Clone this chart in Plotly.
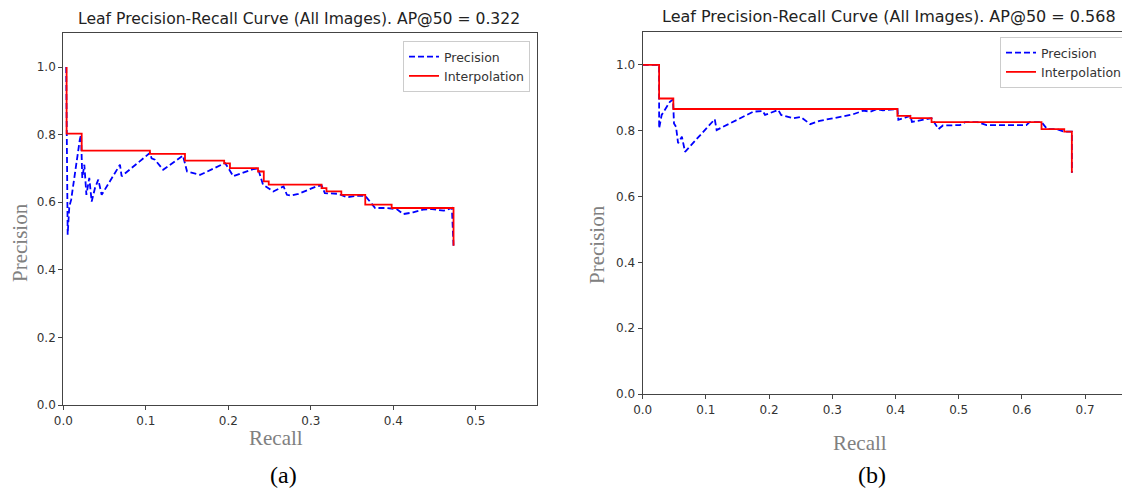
import plotly.graph_objects as go

# ---------------- data ----------------
title_a = "Leaf Precision-Recall Curve (All Images). AP@50 = 0.322"
title_b = "Leaf Precision-Recall Curve (All Images). AP@50 = 0.568"

# (a) precision curve
recall_a = [0.0035, 0.0053, 0.0073, 0.0095, 0.020, 0.0215, 0.023, 0.0255, 0.028, 0.0315,
            0.0344, 0.0384, 0.0424, 0.0465, 0.0687, 0.0707, 0.105, 0.107, 0.111, 0.121,
            0.145, 0.150, 0.166, 0.196, 0.199, 0.206, 0.230, 0.236, 0.242, 0.2545,
            0.267, 0.271, 0.276, 0.285, 0.307, 0.313, 0.317, 0.333, 0.344, 0.356,
            0.366, 0.378, 0.390, 0.404, 0.412, 0.424, 0.436, 0.447, 0.461, 0.471, 0.473]
precision_a = [1.0, 0.504, 0.588, 0.607, 0.785, 0.800, 0.672, 0.711, 0.622, 0.672,
               0.602, 0.642, 0.667, 0.622, 0.711, 0.677, 0.746, 0.730, 0.726, 0.696,
               0.738, 0.691, 0.681, 0.716, 0.705, 0.677, 0.698, 0.700, 0.652, 0.632,
               0.647, 0.622, 0.620, 0.625, 0.647, 0.650, 0.627, 0.625, 0.615, 0.619,
               0.619, 0.583, 0.583, 0.580, 0.565, 0.570, 0.578, 0.580, 0.575, 0.583, 0.471]
# (a) interpolated precision (step points)
interp_recall_a = [0.004, 0.004, 0.0223, 0.105, 0.1475, 0.195, 0.202, 0.236, 0.243, 0.249,
                   0.313, 0.319, 0.337, 0.366, 0.398, 0.473]
interp_precision_a = [1.0, 0.803, 0.753, 0.743, 0.723, 0.715, 0.701, 0.691, 0.662, 0.652,
                      0.642, 0.632, 0.622, 0.593, 0.583, 0.471]

# (b) precision curve
recall_b = [0.0, 0.026, 0.026, 0.030, 0.043, 0.048, 0.0495, 0.0527, 0.056, 0.062,
            0.067, 0.114, 0.117, 0.138, 0.175, 0.190, 0.1935, 0.2145, 0.219, 0.238,
            0.250, 0.265, 0.280, 0.307, 0.333, 0.349, 0.360, 0.370, 0.380, 0.403,
            0.4045, 0.415, 0.4235, 0.426, 0.445, 0.457, 0.468, 0.475, 0.502, 0.510,
            0.530, 0.544, 0.607, 0.612, 0.631, 0.640, 0.655, 0.667, 0.679, 0.679]
precision_b = [1.0, 1.0, 0.807, 0.848, 0.888, 0.895, 0.822, 0.812, 0.762, 0.782,
               0.736, 0.835, 0.802, 0.822, 0.858, 0.860, 0.848, 0.863, 0.848, 0.838,
               0.842, 0.820, 0.830, 0.840, 0.850, 0.861, 0.858, 0.865, 0.862, 0.866,
               0.833, 0.840, 0.845, 0.827, 0.835, 0.838, 0.805, 0.816, 0.817, 0.826,
               0.826, 0.817, 0.817, 0.826, 0.826, 0.805, 0.805, 0.797, 0.797, 0.672]
# (b) interpolated precision (step points)
interp_recall_b = [0.0, 0.026, 0.0485, 0.403, 0.4235, 0.457, 0.631, 0.667, 0.679]
interp_precision_b = [1.0, 0.898, 0.866, 0.845, 0.838, 0.826, 0.805, 0.797, 0.672]

x_ticks_a = [0.0, 0.1, 0.2, 0.3, 0.4, 0.5]
x_ticks_b = [0.0, 0.1, 0.2, 0.3, 0.4, 0.5, 0.6, 0.7]
y_ticks = [0.0, 0.2, 0.4, 0.6, 0.8, 1.0]

# ---------------- figure ----------------
# The page body has an 8px margin, so the figure is offset by 8px;
# size it so it fits the 1130x497 window exactly.
OFF = 8
W, H = 1130 - OFF, 497 - 2 * OFF


def px(xp):
    return (xp - OFF) / W


def py(yp):
    return 1 - (yp - OFF) / H


BLUE = "#0000ff"
RED = "#ff0000"
dash = "6px,3px"

fig = go.Figure()
fig.add_trace(go.Scatter(x=recall_a, y=precision_a, mode="lines", name="Precision",
                         line=dict(color=BLUE, width=1.8, dash=dash),
                         xaxis="x", yaxis="y", legend="legend"))
fig.add_trace(go.Scatter(x=interp_recall_a, y=interp_precision_a, mode="lines", name="Interpolation",
                         line=dict(color=RED, width=1.8, shape="hv"),
                         xaxis="x", yaxis="y", legend="legend"))
fig.add_trace(go.Scatter(x=recall_b, y=precision_b, mode="lines", name="Precision",
                         line=dict(color=BLUE, width=1.8, dash=dash),
                         xaxis="x2", yaxis="y2", legend="legend2"))
fig.add_trace(go.Scatter(x=interp_recall_b, y=interp_precision_b, mode="lines", name="Interpolation",
                         line=dict(color=RED, width=1.8, shape="hv"),
                         xaxis="x2", yaxis="y2", legend="legend2"))

tickfont = dict(family="DejaVu Sans", size=12, color="#333333")
axis_common = dict(showgrid=False, zeroline=False, showline=True, linecolor="#444444",
                   linewidth=1.2, ticks="outside", ticklen=4, tickcolor="#444444",
                   tickfont=tickfont, tickformat=".1f", automargin=False)

legend_font = dict(family="DejaVu Sans", size=12.5, color="#333333")

fig.update_layout(
    template="none",
    width=W, height=H,
    margin=dict(l=0, r=0, t=0, b=0, pad=0, autoexpand=False),
    paper_bgcolor="white", plot_bgcolor="white",
    xaxis=dict(domain=[px(63.3), px(536.7)], range=[0, 0.5738], tickvals=x_ticks_a,
               mirror=True, anchor="y", **axis_common),
    yaxis=dict(domain=[py(405), py(33.3)], range=[0, 1.1], tickvals=y_ticks,
               mirror=True, anchor="x", **axis_common),
    xaxis2=dict(domain=[px(642.7), 1.0], range=[0, 0.771], tickvals=x_ticks_b,
                mirror=True, anchor="y2", **axis_common),
    yaxis2=dict(domain=[py(394), py(32)], range=[0, 1.1], tickvals=y_ticks,
                mirror=False, anchor="x2", **axis_common),
    legend=dict(x=px(530), y=py(41), xanchor="right", yanchor="top",
                bgcolor="white", bordercolor="#cccccc", borderwidth=1,
                font=legend_font, tracegroupgap=0, itemwidth=30),
    legend2=dict(x=px(1127), y=py(37), xanchor="right", yanchor="top",
                 bgcolor="white", bordercolor="#cccccc", borderwidth=1,
                 font=legend_font, tracegroupgap=0, itemwidth=30),
    showlegend=True,
)

annotations = [
    dict(text=title_a, x=px(299), y=py(19), font=dict(family="DejaVu Sans", size=15.6, color="#222222")),
    dict(text=title_b, x=px(889), y=py(17), font=dict(family="DejaVu Sans", size=16, color="#222222")),
    dict(text="Recall", x=px(276), y=py(438), font=dict(family="Liberation Serif", size=21, color="#808080")),
    dict(text="Recall", x=px(860), y=py(443), font=dict(family="Liberation Serif", size=21, color="#808080")),
    dict(text="Precision", x=px(20), y=py(243), textangle=-90,
         font=dict(family="Liberation Serif", size=21, color="#808080")),
    dict(text="Precision", x=px(597), y=py(245), textangle=-90,
         font=dict(family="Liberation Serif", size=21, color="#808080")),
    dict(text="(a)", x=px(283), y=py(475), font=dict(family="Liberation Serif", size=24, color="black")),
    dict(text="(b)", x=px(872), y=py(475), font=dict(family="Liberation Serif", size=24, color="black")),
]
for a in annotations:
    a.update(xref="paper", yref="paper", xanchor="center", yanchor="middle", showarrow=False)
fig.update_layout(annotations=annotations)

fig.write_html("out.html")
